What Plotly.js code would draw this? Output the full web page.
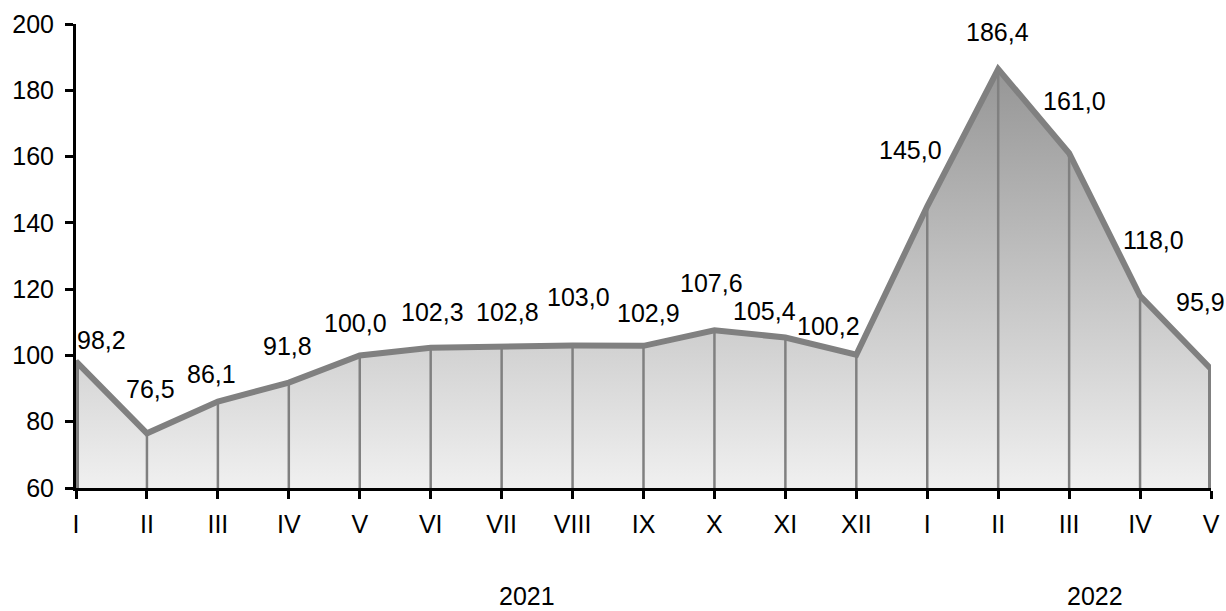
<!DOCTYPE html>
<html>
<head>
<meta charset="utf-8">
<script src="https://cdn.plot.ly/plotly-3.0.1.min.js"></script>
<style>
  html, body { margin: 0; padding: 0; background: #fff; }
  #chart { width: 1226px; height: 611px; }
</style>
</head>
<body>
<div id="chart"></div>
<script>
// ---- data ----
const months = ["I","II","III","IV","V","VI","VII","VIII","IX","X","XI","XII","I","II","III","IV","V"];
const values = [98.2, 76.5, 86.1, 91.8, 100.0, 102.3, 102.8, 103.0, 102.9, 107.6, 105.4, 100.2, 145.0, 186.4, 161.0, 118.0, 95.9];
const years = ["2021", "2022"];
const yTicks = [60, 80, 100, 120, 140, 160, 180, 200];
const baseline = 60;

// label offsets in px (xshift, yshift) – layout only
const labelShift = [
  [25, 21], [4, 44], [-6, 28], [-1, 37], [-4, 32], [2, 36], [6, 34], [6, 48], [5, 33],
  [-3, 47], [-21, 27], [-28, 29], [-17, 56], [-1, 37], [5, 52], [13, 56], [-11, 67]
];
const yearPos = [6.36, 14.37];

const idx = months.map((_, i) => i);
const FONT = "Arial, 'Liberation Sans', sans-serif";
const FS = 25;
const GRAY = "#808080";

const polyX = [idx[0]].concat(idx, [idx[idx.length - 1]]);
const polyY = [baseline].concat(values, [baseline]);

const area = {
  x: polyX, y: polyY,
  type: "scatter", mode: "lines",
  fill: "toself",
  fillgradient: {
    type: "vertical", start: 60, stop: 200,
    colorscale: [[0, "#f0f0f0"], [1, "#8c8c8c"]]
  },
  line: { color: GRAY, width: 6 },
  hoverinfo: "skip", showlegend: false
};

const drops = {
  x: idx, y: values,
  type: "scatter", mode: "markers",
  marker: { size: 1, opacity: 0 },
  error_y: {
    type: "data", symmetric: false,
    array: values.map(() => 0),
    arrayminus: values.map(v => v - baseline),
    color: GRAY, thickness: 2.5, width: 0
  },
  hoverinfo: "skip", showlegend: false
};

const fmt = v => v.toFixed(1).replace(".", ",");

const annotations = values.map((v, i) => ({
  x: i, y: v, xref: "x", yref: "y",
  text: fmt(v), showarrow: false,
  xanchor: "center", yanchor: "middle",
  xshift: labelShift[i][0], yshift: labelShift[i][1],
  font: { family: FONT, size: FS, color: "#000" }
})).concat(years.map((t, k) => ({
  x: yearPos[k], y: -0.232, xref: "x", yref: "paper",
  text: t, showarrow: false, xanchor: "center", yanchor: "middle",
  font: { family: FONT, size: FS, color: "#000" }
})));

const layout = {
  width: 1226, height: 611,
  margin: { l: 76, r: 15.3, t: 24.3, b: 123.3 },
  paper_bgcolor: "#fff", plot_bgcolor: "#fff",
  font: { family: FONT, size: FS, color: "#000" },
  showlegend: false,
  xaxis: {
    range: [0, idx.length - 1],
    tickmode: "array", tickvals: idx, ticktext: months,
    showgrid: false, zeroline: false,
    showline: true, linecolor: "#000", linewidth: 3,
    ticks: "outside", ticklen: 8, tickwidth: 3, tickcolor: "#000",
    ticklabelstandoff: 4,
    tickfont: { family: FONT, size: FS, color: "#000" }
  },
  yaxis: {
    range: [60, 200],
    tickmode: "array", tickvals: yTicks, ticktext: yTicks.map(String),
    showgrid: false, zeroline: false,
    showline: true, linecolor: "#000", linewidth: 3,
    ticks: "outside", ticklen: 8, tickwidth: 3, tickcolor: "#000",
    ticklabelstandoff: 6,
    tickfont: { family: FONT, size: FS, color: "#000" }
  },
  annotations: annotations
};

Plotly.newPlot("chart", [area, drops], layout, { staticPlot: true, displayModeBar: false });
</script>
</body>
</html>
